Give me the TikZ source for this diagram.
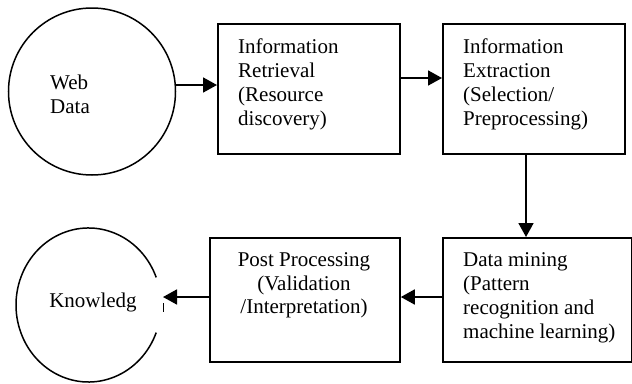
\documentclass[tikz,border=0pt]{standalone}
\usepackage{fontspec}
\setmainfont{Liberation Serif}
\usetikzlibrary{arrows.meta}
\begin{document}
\begin{tikzpicture}[x=1pt,y=-1pt,
  box/.style={draw, line width=1.8pt, inner sep=0pt, anchor=north west},
  txt/.style={anchor=north west, inner sep=0pt, align=left, font=\fontsize{21}{24}\selectfont},
  ctxt/.style={anchor=north, inner sep=0pt, align=center, font=\fontsize{21}{23.5}\selectfont},
  arr/.style={-{Triangle[length=14pt,width=15pt]}, line width=1.8pt},
  ring/.style={draw, line width=1.5pt}]
\useasboundingbox (0,0) rectangle (632,383);
% web data circle
\node[ring, circle, minimum size=167pt, inner sep=0pt] (web) at (92,91.5) {};
\node[txt] (webt) at (50,74.5) {Web\\Data};
% boxes
\node[box, minimum width=182pt, minimum height=130pt] (b1) at (217,23) {};
\node[txt] (t1) at (238,38.5) {Information\\Retrieval\\(Resource\\discovery)};
\node[box, minimum width=182pt, minimum height=130pt] (b2) at (442,23) {};
\node[txt] (t2) at (463,38.5) {Information\\Extraction\\(Selection/\\Preprocessing)};
\node[box, minimum width=189pt, minimum height=124pt] (b3) at (442,237) {};
\node[txt] (t3) at (463,252.5) {Data mining\\(Pattern\\recognition and\\machine learning)};
\node[box, minimum width=190pt, minimum height=124pt] (b4) at (209,237) {};
\node[ctxt] (t4) at (304,252.5) {Post Processing\\(Validation\\/Interpretation)};
% knowledge
\coordinate (kc) at (88.5,305);
\draw[ring] (156.2,277.4) arc[start angle=-21, end angle=-339, x radius=72.5, y radius=77];
\node[anchor=base, inner sep=0pt, font=\fontsize{21}{24}\selectfont] (know) at (93,307) {Knowledg};
\coordinate (ktip) at (163,297);
\draw[line width=0.7pt] ([yshift=-6pt]ktip) -- ([yshift=-15pt]ktip);
% connectors
\coordinate (y1) at (0,85);
\coordinate (y2) at (0,78);
\coordinate (dx) at (526,0);
\draw[arr] (web.east |- y1) -- (b1.west |- y1);
\draw[arr] (b1.east |- y2) -- (b2.west |- y2);
\draw[arr] (b2.south -| dx) -- (b3.north -| dx);
\draw[arr] (b3.west |- ktip) -- (b4.east |- ktip);
\draw[arr] (b4.west |- ktip) -- (ktip);
\end{tikzpicture}
\end{document}
